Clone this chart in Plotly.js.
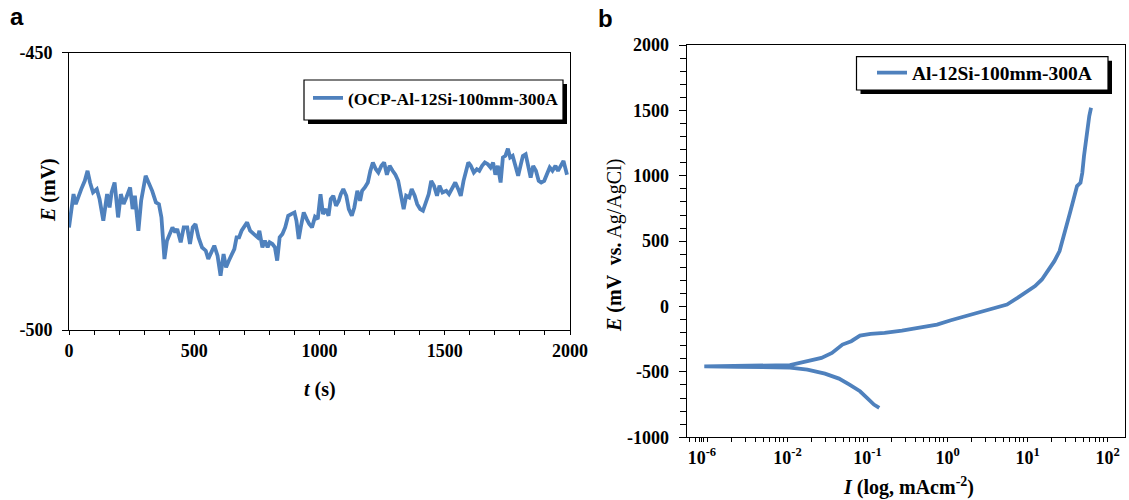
<!DOCTYPE html>
<html>
<head>
<meta charset="utf-8">
<script src="https://cdn.plot.ly/plotly-3.0.1.min.js"></script>
<style>html,body{margin:0;padding:0;background:#fff;}#chart{width:1129px;height:500px;}</style>
</head>
<body>
<div id="chart"></div>
<script>
// ---------- Panel a: open circuit potential vs time ----------
const ocpTime = [0,7,18,27,37,49,63,74,84,96,111,122,137,152,162,170,182,196,207,218,229,244,254,263,277,288,306,317,332,347,359,369,381,391,403,413,424,432,446,458,472,483,494,505,517,531,546,556,568,580,593,605,617,627,638,649,660,669,679,689,701,711,723,738,753,760,772,782,793,801,812,822,831,841,852,863,875,887,900,908,917,925,937,949,959,970,982,993,1004,1014,1026,1036,1045,1055,1066,1077,1085,1095,1107,1117,1129,1139,1151,1162,1170,1181,1193,1203,1213,1225,1235,1247,1258,1269,1280,1292,1303,1314,1324,1336,1346,1358,1368,1380,1390,1402,1413,1424,1436,1446,1457,1469,1479,1491,1506,1517,1531,1542,1554,1564,1575,1584,1594,1604,1616,1628,1638,1649,1660,1672,1683,1693,1702,1712,1723,1732,1742,1752,1761,1771,1781,1793,1804,1812,1823,1834,1843,1853,1864,1875,1885,1897,1909,1919,1930,1942,1952,1964,1974,1988];
const ocpPotential = [-481.5,-479.1,-475.5,-477.3,-475.8,-474.6,-473.1,-471.3,-473.4,-475.2,-474.6,-476.4,-480.3,-475.5,-477.9,-475.2,-473.4,-479.7,-475.5,-477.3,-476.1,-474.3,-478.2,-475.8,-482.1,-476.7,-472.2,-473.4,-474.9,-477.0,-477.3,-479.7,-487.2,-483.9,-482.7,-481.5,-482.4,-481.8,-484.2,-481.5,-481.5,-484.5,-481.5,-480.9,-483.3,-485.1,-485.7,-487.2,-486.0,-484.8,-486.6,-490.2,-486.3,-488.7,-487.5,-486.3,-485.4,-483.3,-483.3,-482.1,-481.2,-480.6,-482.1,-482.7,-483.3,-482.1,-485.1,-483.9,-485.1,-484.2,-484.5,-485.1,-487.5,-483.3,-482.7,-481.5,-479.4,-479.1,-478.8,-480.3,-483.6,-481.5,-478.8,-480.0,-480.9,-481.5,-479.6,-480.0,-475.5,-479.1,-478.2,-479.4,-476.4,-475.8,-477.6,-476.7,-475.5,-474.6,-475.8,-478.2,-479.4,-477.9,-474.9,-476.7,-474.9,-474.3,-473.4,-471.3,-469.8,-471.0,-471.6,-470.4,-469.8,-472.0,-470.4,-471.3,-472.0,-473.1,-475.2,-478.2,-475.8,-476.1,-474.6,-475.8,-477.3,-478.2,-478.5,-477.0,-475.5,-473.1,-474.0,-475.8,-474.0,-475.2,-474.9,-475.5,-474.3,-473.4,-474.6,-475.8,-473.1,-471.3,-469.8,-470.4,-471.6,-471.0,-471.3,-470.4,-469.8,-470.1,-470.7,-469.8,-472.0,-470.4,-473.4,-468.9,-468.6,-467.3,-468.9,-468.6,-470.1,-472.2,-470.1,-468.6,-468.3,-471.0,-472.5,-470.4,-471.3,-473.1,-473.4,-473.1,-472.0,-470.7,-471.3,-470.4,-471.3,-470.1,-469.5,-472.0];
const ocpName = "(OCP-Al-12Si-100mm-300A";
const aXTickVals = [0, 500, 1000, 1500, 2000];
const aXTickText = ["0", "500", "1000", "1500", "2000"];
const aYTickVals = [-500, -450];
const aYTickText = ["-500", "-450"];

// ---------- Panel b: potentiodynamic polarization ----------
const polCurrent = [0.140,0.120,0.0982,0.0804,0.0594,0.0439,0.0293,0.0177,0.0107,0.00647,0.00237,0.00091,0.00237,0.00647,0.0107,0.0177,0.0265,0.0359,0.0485,0.0625,0.0804,0.109,0.163,0.269,0.446,0.738,1.10,1.65,2.73,4.08,5.53,7.48,10.1,12.4,15.1,18.5,21.6,25.1,27.7,30.6,33.9,37.5,41.5,45.8,48.3,50.7,53.3,56.1,59.0,62.1];
const polPotential = [-775,-750,-699,-648,-597,-551,-513,-482,-467,-463,-461,-458,-456,-455,-448,-418,-393,-355,-291,-265,-222,-209,-202,-184,-163,-138,-105,-74,-43,-10,15,66,117,156,207,283,347,424,513,615,717,819,921,946,1023,1151,1278,1355,1457,1520];
const polName = "Al-12Si-100mm-300A";
const bXTickVals = [0.00085, 0.01, 0.1, 1, 10, 100];
const bXTickText = ["10<sup>-6</sup>", "10<sup>-2</sup>", "10<sup>-1</sup>", "10<sup>0</sup>", "10<sup>1</sup>", "10<sup>2</sup>"];
const bYTickVals = [-1000, -500, 0, 500, 1000, 1500, 2000];
const bYTickText = ["-1000", "-500", "0", "500", "1000", "1500", "2000"];

// ---------- layout helpers ----------
const W = 1129, H = 500;
const px = v => v / W;
const py = v => 1 - v / H;
const blue = "#4F81BD";
const serif = "Liberation Serif, Times New Roman, serif";
const tickFont = {family: serif, size: 18, color: "#000", weight: "bold"};

const axisCommon = {
  showline: true, mirror: true, linecolor: "#000", linewidth: 1,
  showgrid: false, zeroline: false, ticks: "outside", tickcolor: "#000",
  tickwidth: 1, tickfont: tickFont, tickmode: "array", fixedrange: true
};

const traces = [
  {x: ocpTime, y: ocpPotential, type: "scatter", mode: "lines", name: ocpName,
   line: {color: blue, width: 3.8}, xaxis: "x", yaxis: "y", legend: "legend"},
  {x: polCurrent, y: polPotential, type: "scatter", mode: "lines", name: polName,
   line: {color: blue, width: 3.8}, xaxis: "x2", yaxis: "y2", legend: "legend2"}
];

function boxShapes(x0, y0, x1, y1) {
  return [
    {type: "rect", xref: "paper", yref: "paper", x0: px(x0 + 4), x1: px(x1 + 4), y0: py(y1 + 4), y1: py(y0 + 4),
     fillcolor: "#000", line: {width: 0}, layer: "above"},
    {type: "rect", xref: "paper", yref: "paper", x0: px(x0), x1: px(x1), y0: py(y1), y1: py(y0),
     fillcolor: "#fff", line: {color: "#000", width: 1.2}, layer: "above"}
  ];
}

const layout = {
  width: W, height: H,
  margin: {l: 0, r: 0, t: 0, b: 0},
  paper_bgcolor: "#fff", plot_bgcolor: "#fff",
  showlegend: true,
  xaxis: Object.assign({}, axisCommon, {
    domain: [px(69), px(570)], range: [0, 2000],
    tickvals: aXTickVals, ticktext: aXTickText, ticklen: 4,
    minor: {tickmode: "linear", tick0: 0, dtick: 100, ticks: "outside", ticklen: 4, tickcolor: "#000", tickwidth: 1},
    anchor: "y"
  }),
  yaxis: Object.assign({}, axisCommon, {
    domain: [py(330), py(52.7)], range: [-500, -450],
    tickvals: aYTickVals, ticktext: aYTickText, ticklen: 6, ticklabelstandoff: 6,
    anchor: "x"
  }),
  xaxis2: Object.assign({}, axisCommon, {
    type: "log", domain: [px(686.7), px(1125)], range: [-3.261, 2.2175],
    tickvals: bXTickVals, ticktext: bXTickText, ticklen: 4,
    minor: {dtick: "D1", ticks: "outside", ticklen: 4, tickcolor: "#000", tickwidth: 1},
    anchor: "y2"
  }),
  yaxis2: Object.assign({}, axisCommon, {
    domain: [py(437.3), py(45)], range: [-1000, 2000],
    tickvals: bYTickVals, ticktext: bYTickText, ticklen: 7, ticklabelstandoff: 6,
    minor: {tickmode: "linear", tick0: 0, dtick: 100, ticks: "outside", ticklen: 6, tickcolor: "#000", tickwidth: 1},
    anchor: "x2"
  }),
  legend: {x: px(308), xanchor: "left", y: py(98), yanchor: "middle",
    bgcolor: "rgba(0,0,0,0)", borderwidth: 0,
    font: {family: serif, size: 17.5, color: "#000", weight: "bold"}},
  legend2: {x: px(872), xanchor: "left", y: py(73), yanchor: "middle",
    bgcolor: "rgba(0,0,0,0)", borderwidth: 0,
    font: {family: serif, size: 19.5, color: "#000", weight: "bold"}},
  shapes: [].concat(boxShapes(304, 80, 563, 120), boxShapes(856.5, 56.7, 1108, 90)),
  annotations: [
    {text: "<b>a</b>", xref: "paper", yref: "paper", x: px(16.5), y: py(16), xanchor: "center", yanchor: "middle",
     showarrow: false, font: {family: "Liberation Sans, Arial, sans-serif", size: 24, color: "#000"}},
    {text: "<b>b</b>", xref: "paper", yref: "paper", x: px(605), y: py(18), xanchor: "center", yanchor: "middle",
     showarrow: false, font: {family: "Liberation Sans, Arial, sans-serif", size: 24, color: "#000"}},
    {text: "<b><i>t</i> (s)</b>", xref: "paper", yref: "paper", x: px(320), y: py(389), xanchor: "center", yanchor: "middle",
     showarrow: false, font: {family: serif, size: 20, color: "#000"}},
    {text: "<b><i>E</i> (mV)</b>", xref: "paper", yref: "paper", x: px(48), y: py(190), xanchor: "center", yanchor: "middle",
     textangle: -90, showarrow: false, font: {family: serif, size: 20, color: "#000"}},
    {text: "<b><i>E</i> (mV  vs.</b> Ag/AgCl)", xref: "paper", yref: "paper", x: px(614), y: py(246), xanchor: "center", yanchor: "middle",
     textangle: -90, showarrow: false, font: {family: serif, size: 20, color: "#000"}},
    {text: "<b><i>I</i> (log, mAcm<sup>-2</sup>)</b>", xref: "paper", yref: "paper", x: px(908), y: py(486), xanchor: "center", yanchor: "middle",
     showarrow: false, font: {family: serif, size: 20, color: "#000"}}
  ]
};

Plotly.newPlot("chart", traces, layout, {displayModeBar: false, staticPlot: true});
</script>
</body>
</html>
